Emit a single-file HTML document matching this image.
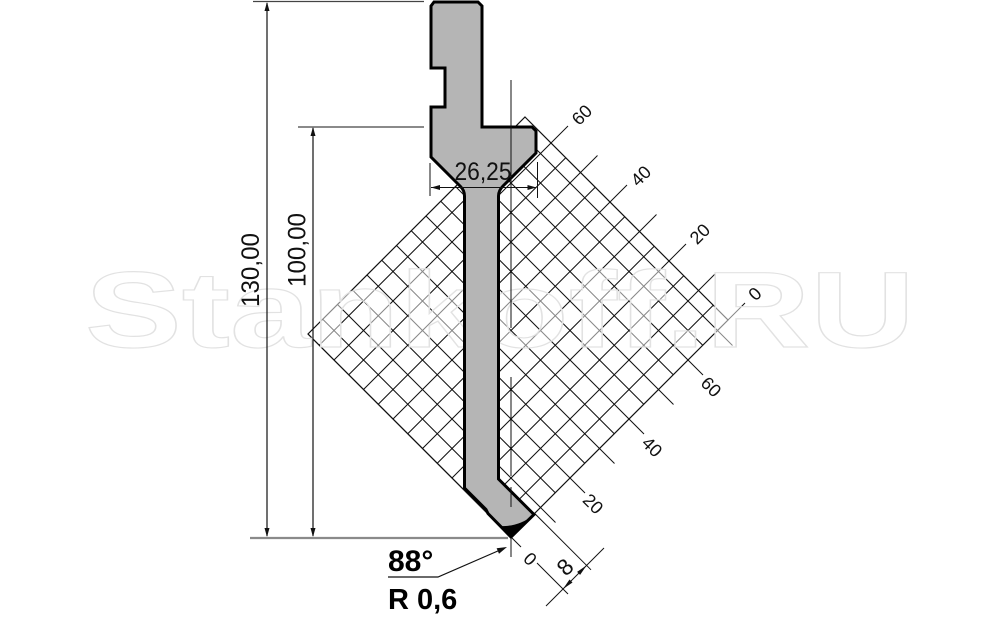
<!DOCTYPE html>
<html>
<head>
<meta charset="utf-8">
<style>
html,body{margin:0;padding:0;background:#fff;width:1000px;height:618px;overflow:hidden;}
svg{display:block;position:absolute;left:0;top:0;}
text{font-family:"Liberation Sans",sans-serif;}
</style>
</head>
<body>
<svg width="1000" height="618" viewBox="0 0 1000 618" xmlns="http://www.w3.org/2000/svg" overflow="hidden">
<rect width="1000" height="618" fill="#fff"/>

<!-- grid -->
<g stroke="#111" stroke-width="1.05" fill="none">
<path d="M308,334L511,537 M322.75,319.25L525.75,522.25 M337.5,304.5L540.5,507.5 M352.25,289.75L555.25,492.75 M367,275L570,478 M381.75,260.25L584.75,463.25 M396.5,245.5L599.5,448.5 M411.25,230.75L614.25,433.75 M426,216L629,419 M440.75,201.25L643.75,404.25 M455.5,186.5L658.5,389.5 M470.25,171.75L673.25,374.75 M485,157L688,360 M499.75,142.25L702.75,345.25 M514.5,127.5L717.5,330.5"/>
<path d="M496.25,522.25L713.25,305.25 M481.5,507.5L698.5,290.5 M466.75,492.75L683.75,275.75 M452,478L669,261 M437.25,463.25L654.25,246.25 M422.5,448.5L639.5,231.5 M407.75,433.75L624.75,216.75 M393,419L610,202 M378.25,404.25L595.25,187.25 M363.5,389.5L580.5,172.5 M348.75,374.75L565.75,157.75 M334,360L551,143 M319.25,345.25L536.25,128.25"/>
</g>
<polygon points="525,117 728,320 511,537 308,334" fill="none" stroke="#111" stroke-width="1.2"/>

<!-- ticks -->
<g stroke="#111" stroke-width="1">
<path d="M728,320L745,303 M698.5,290.5L715.5,273.5 M669,261L686,244 M639.5,231.5L656.5,214.5 M610,202L627,185 M580.5,172.5L597.5,155.5 M551,143L568,126"/>
<path d="M540.5,507.5L555.5,522.5 M570,478L585,493 M599.5,448.5L614.5,463.5 M629,419L644,434 M658.5,389.5L673.5,404.5 M688,360L703,375 M717.5,330.5L732.5,345.5"/>
<path d="M511,537L521,547 M537,563L568,594 M534.6,513.4L591,569.8"/>
<path d="M546,606L604,548"/>
</g>
<polygon points="563,589 569.5,579.5 572.5,582.5" fill="#111"/>
<polygon points="586.6,565.4 580.1,574.9 577.1,571.9" fill="#111"/>

<!-- tick labels -->
<g font-size="18" fill="#111" text-anchor="middle" dominant-baseline="central">
<text transform="translate(582,115) rotate(-45)">60</text>
<text transform="translate(641,176) rotate(-45)">40</text>
<text transform="translate(700,234) rotate(-45)">20</text>
<text transform="translate(755,294) rotate(-45)">0</text>
<text transform="translate(711,387) rotate(45)">60</text>
<text transform="translate(652,447) rotate(45)">40</text>
<text transform="translate(593,504) rotate(45)">20</text>
<text transform="translate(530,559) rotate(45)">0</text>
</g>
<text transform="translate(565,567) rotate(-45)" font-size="23" fill="#111" text-anchor="middle" dominant-baseline="central">8</text>

<!-- watermark -->
<text x="85" y="347" font-size="108" font-weight="bold" textLength="830" lengthAdjust="spacingAndGlyphs" fill="#fff" fill-opacity="0.5" stroke="#e2e2e2" stroke-width="1.2">Stankoff.RU</text>

<!-- punch -->
<path d="M434,2 L478,2 L482,6 L482,127 L532,127 L536,131 L536,153 L503,186 Q498.5,190.5 498.5,196 L498.5,479 L534,514.5 L511,537 L488,513.5 L486,509.5 L464.5,488 L464.5,196 Q464.5,190.5 460.5,186.5 L431,157 L431,107 L445,107 L445,68 L431,68 L431,6 Z" fill="#b5b5b5" stroke="#000" stroke-width="3" stroke-linejoin="miter"/>
<path d="M500,526 Q518,527 533,515.5 L511,537 Z" fill="#000"/>

<!-- centerline -->
<g stroke="#111" stroke-width="1">
<path d="M511,80L511,328 M511,377L511,476 M511,487L511,507 M511,538L511,557"/>
</g>

<!-- 26,25 dimension -->
<g stroke="#111" stroke-width="1">
<path d="M430,163L430,196 M537.5,162L537.5,198 M431,187.5L536.5,187.5"/>
</g>
<polygon points="431,187.5 440,185 440,190" fill="#111"/>
<polygon points="536.5,187.5 527.5,185 527.5,190" fill="#111"/>
<text x="483" y="180" font-size="25" fill="#111" text-anchor="middle" textLength="57" lengthAdjust="spacingAndGlyphs">26,25</text>

<!-- height dims -->
<g stroke="#444" stroke-width="1.2">
<path d="M253,1.5L424,1.5 M298,127L424,127"/>
</g>
<line x1="250" y1="538" x2="508" y2="538" stroke="#8a8a8a" stroke-width="2.2"/>
<g stroke="#111" stroke-width="1.2">
<path d="M267,3L267,536 M313,128L313,536"/>
</g>
<polygon points="267,2 264.5,11 269.5,11" fill="#111"/>
<polygon points="267,537 264.5,528 269.5,528" fill="#111"/>
<polygon points="313,127 310.5,136 315.5,136" fill="#111"/>
<polygon points="313,537 310.5,528 315.5,528" fill="#111"/>
<text transform="translate(251,270) rotate(-90)" font-size="25" fill="#111" text-anchor="middle" dominant-baseline="central" textLength="74" lengthAdjust="spacingAndGlyphs">130,00</text>
<text transform="translate(297.5,250) rotate(-90)" font-size="25" fill="#111" text-anchor="middle" dominant-baseline="central" textLength="74" lengthAdjust="spacingAndGlyphs">100,00</text>

<!-- 88° / R 0,6 -->
<polyline points="388,577 438,577 499,550.5" fill="none" stroke="#111" stroke-width="1.2"/>
<polygon points="507,547 499,553.8 496.6,548.3" fill="#111"/>
<text x="388" y="571" font-size="30" font-weight="bold" fill="#000">88°</text>
<text x="388" y="609" font-size="29" font-weight="bold" fill="#000">R 0,6</text>
</svg>
</body>
</html>
